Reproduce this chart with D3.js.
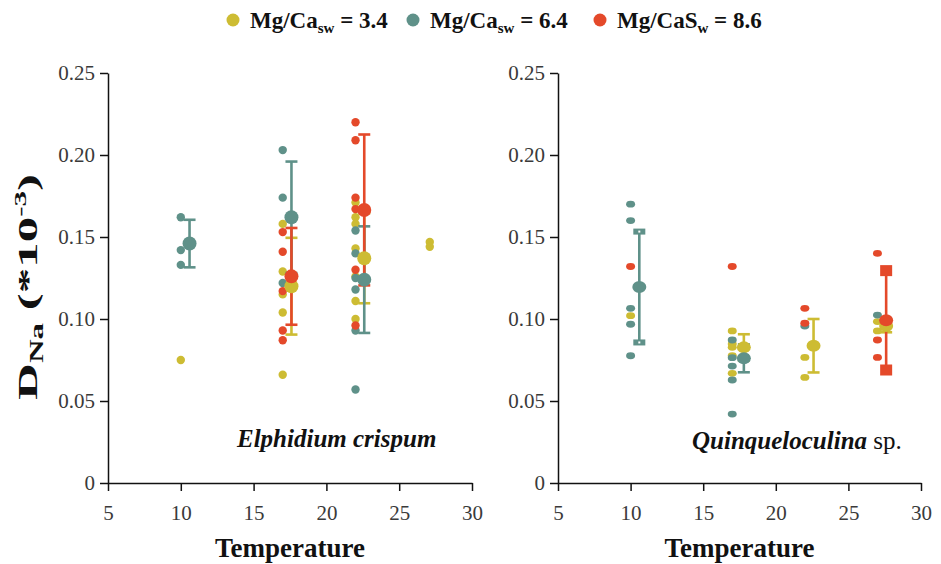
<!DOCTYPE html>
<html>
<head>
<meta charset="utf-8">
<script src="https://cdn.jsdelivr.net/npm/d3@7"></script>
<style>
  body { margin: 0; background: #fff; }
  svg text { font-family: "Liberation Serif", "Times New Roman", Times, "DejaVu Serif", serif !important; }
</style>
</head>
<body>
<script>
// legend: [main, subscript, tail]
var legendLabels = [["Mg/Ca", "sw", " = 3.4"], ["Mg/Ca", "sw", " = 6.4"], ["Mg/CaS", "w", " = 8.6"]];
var colors = ["#cdbc33", "#5f9189", "#e4492a"];

var xTicks = [5, 10, 15, 20, 25, 30];
var yTicks = [0, 0.05, 0.10, 0.15, 0.20, 0.25];

// Elphidium crispum, single measurements [temperature, D_Na]
var ecPts34 = [[10, 0.075], [17, 0.158], [17, 0.129], [17, 0.115], [17, 0.104], [17, 0.066],
               [22, 0.171], [22, 0.162], [22, 0.158], [22, 0.143], [22, 0.126], [22, 0.111], [22, 0.100],
               [27.1, 0.147], [27.1, 0.144]];
var ecPts64 = [[10, 0.162], [10, 0.142], [10, 0.133], [17, 0.203], [17, 0.174], [17, 0.122],
               [22, 0.154], [22, 0.140], [22, 0.125], [22, 0.118], [22, 0.093], [22, 0.057]];
var ecPts86 = [[17, 0.153], [17, 0.141], [17, 0.117], [17, 0.093], [17, 0.087],
               [22, 0.220], [22, 0.209], [22, 0.174], [22, 0.167], [22, 0.130], [22, 0.096]];
// means [temperature, mean, sd]
var ecMean34 = [[17.6, 0.120, 0.0295], [22.6, 0.137, 0.0274]];
var ecMean64 = [[10.6, 0.146, 0.0145], [17.6, 0.162, 0.034], [22.6, 0.124, 0.0325]];
var ecMean86 = [[17.6, 0.126, 0.0295], [22.6, 0.1665, 0.046]];

// Quinqueloculina sp.
var qPts34 = [[10, 0.102], [17, 0.0927], [17, 0.0848], [17, 0.0827], [17, 0.0776], [17, 0.0669],
              [22, 0.0766], [22, 0.0644], [27, 0.0984], [27, 0.0927]];
var qPts64 = [[10, 0.170], [10, 0.160], [10, 0.1065], [10, 0.0968], [10, 0.0776],
              [17, 0.0872], [17, 0.0764], [17, 0.0713], [17, 0.0628], [17, 0.042],
              [22, 0.0957], [27, 0.1024]];
var qPts86 = [[10, 0.132], [17, 0.132], [22, 0.1065], [22, 0.0974], [27, 0.140], [27, 0.0872], [27, 0.0766]];
var qMean34 = [[17.8, 0.0827, 0.008], [22.6, 0.0837, 0.0163], [27.6, 0.0957, 0.0038]];
var qMean64 = [[10.6, 0.1195, 0.0338], [17.8, 0.076, 0.0085]];
var qMean86 = [[27.6, 0.0992, 0.0303]];

// cap shapes used in the right panel (per mean)
var qCapShape = [["line", "line", "line"], ["box", "line"], ["square"]];

var serif = "'Liberation Serif', 'Times New Roman', Times, 'DejaVu Serif', serif";
var w = 941, h = 564;

var svg = d3.select("body").append("svg")
    .attr("width", w)
    .attr("height", h)
    .attr("font-family", serif);

var y = d3.scaleLinear().domain([0, 0.25]).range([483, 73]);

function drawPanel(x0, x1, pts, means, caps, oval) {
  var x = d3.scaleLinear().domain([5, 30]).range([x0, x1]);
  var g = svg.append("g");

  var yAxis = g.append("g")
      .attr("transform", "translate(" + x0 + ",0)")
      .call(d3.axisLeft(y).tickValues(yTicks).tickSize(8).tickSizeOuter(0).tickPadding(5)
        .tickFormat(function(d) { return d === 0 ? "0" : d3.format(".2f")(d); }));
  var xAxis = g.append("g")
      .attr("transform", "translate(0,483)")
      .call(d3.axisBottom(x).tickValues(xTicks).tickSize(8).tickSizeOuter(0).tickPadding(14));

  [yAxis, xAxis].forEach(function(a) {
    a.attr("font-family", serif);
    a.selectAll("path, line").attr("stroke", "#111").attr("stroke-width", 1.5);
    a.selectAll("text").attr("font-size", "21px").attr("fill", "#3a3a3a");
  });

  // single points
  pts.forEach(function(s, i) {
    if (oval) {
      g.selectAll(null).data(s).enter().append("ellipse")
        .attr("cx", function(d) { return x(d[0]); })
        .attr("cy", function(d) { return y(d[1]); })
        .attr("rx", 4.5).attr("ry", 3.4)
        .attr("fill", colors[i]);
    } else {
      g.selectAll(null).data(s).enter().append("circle")
        .attr("cx", function(d) { return x(d[0]); })
        .attr("cy", function(d) { return y(d[1]); })
        .attr("r", 4.2)
        .attr("fill", colors[i]);
    }
  });

  // error bars
  means.forEach(function(s, i) {
    s.forEach(function(d, j) {
      var cx = x(d[0]);
      var top = y(d[1] + d[2]), bot = y(d[1] - d[2]);
      g.append("line")
        .attr("x1", cx).attr("x2", cx).attr("y1", top).attr("y2", bot)
        .attr("stroke", colors[i]).attr("stroke-width", 2.6);
      var shape = caps ? caps[i][j] : "line";
      [top, bot].forEach(function(cy) {
        if (shape === "box") {
          g.append("rect").attr("x", cx - 6).attr("y", cy - 3).attr("width", 12).attr("height", 6)
            .attr("fill", colors[i]);
          g.append("rect").attr("x", cx - 1).attr("y", cy - 1).attr("width", 2).attr("height", 2)
            .attr("fill", "#fff");
        } else if (shape === "square") {
          g.append("rect").attr("x", cx - 6).attr("y", cy - 5.5).attr("width", 12).attr("height", 11)
            .attr("fill", colors[i]);
        } else {
          g.append("line").attr("x1", cx - 6).attr("x2", cx + 6).attr("y1", cy).attr("y2", cy)
            .attr("stroke", colors[i]).attr("stroke-width", 2.6);
        }
      });
    });
  });

  // means
  means.forEach(function(s, i) {
    if (oval) {
      g.selectAll(null).data(s).enter().append("ellipse")
        .attr("cx", function(d) { return x(d[0]); })
        .attr("cy", function(d) { return y(d[1]); })
        .attr("rx", 7).attr("ry", 6)
        .attr("fill", colors[i]);
    } else {
      g.selectAll(null).data(s).enter().append("circle")
        .attr("cx", function(d) { return x(d[0]); })
        .attr("cy", function(d) { return y(d[1]); })
        .attr("r", 7)
        .attr("fill", colors[i]);
    }
  });

  g.append("text")
    .attr("x", (x0 + x1) / 2)
    .attr("y", 557)
    .attr("text-anchor", "middle")
    .attr("font-size", "27px")
    .attr("font-weight", "bold")
    .attr("fill", "#111")
    .text("Temperature");

  return g;
}

drawPanel(108, 472, [ecPts34, ecPts64, ecPts86], [ecMean34, ecMean64, ecMean86], null, false);
drawPanel(558, 921, [qPts34, qPts64, qPts86], [qMean34, qMean64, qMean86], qCapShape, true);

// species labels
svg.append("text")
  .attr("x", 237).attr("y", 447)
  .attr("font-size", "25px").attr("font-weight", "bold").attr("font-style", "italic")
  .attr("fill", "#111")
  .text("Elphidium crispum");

var q = svg.append("text")
  .attr("x", 692).attr("y", 449)
  .attr("font-size", "25px").attr("fill", "#111");
q.append("tspan").attr("font-weight", "bold").attr("font-style", "italic").text("Quinqueloculina");
q.append("tspan").text(" sp.");

// y label (stretched along its length like the original)
var yl = svg.append("text")
  .attr("transform", "translate(37,287) rotate(-90)")
  .attr("text-anchor", "middle")
  .attr("font-size", "28px")
  .attr("font-weight", "bold")
  .attr("fill", "#111")
  .attr("textLength", 226)
  .attr("lengthAdjust", "spacingAndGlyphs");
yl.append("tspan").text("D");
yl.append("tspan").attr("font-size", "18px").attr("dy", 6).text("Na");
yl.append("tspan").attr("dy", -6).text(" (*10");
yl.append("tspan").attr("font-size", "17px").attr("dy", -11).text("-3");
yl.append("tspan").attr("dy", 11).text(")");

// legend
var legX = [233, 413, 600];
legendLabels.forEach(function(l, i) {
  svg.append("circle").attr("cx", legX[i]).attr("cy", 20).attr("r", 6.5).attr("fill", colors[i]);
  var t = svg.append("text")
    .attr("x", legX[i] + 17).attr("y", 28)
    .attr("font-size", "23px").attr("font-weight", "bold").attr("fill", "#111");
  t.append("tspan").text(l[0]);
  t.append("tspan").attr("font-size", "15px").attr("dy", 5).text(l[1]);
  t.append("tspan").attr("dy", -5).text(l[2]);
});
</script>
</body>
</html>
